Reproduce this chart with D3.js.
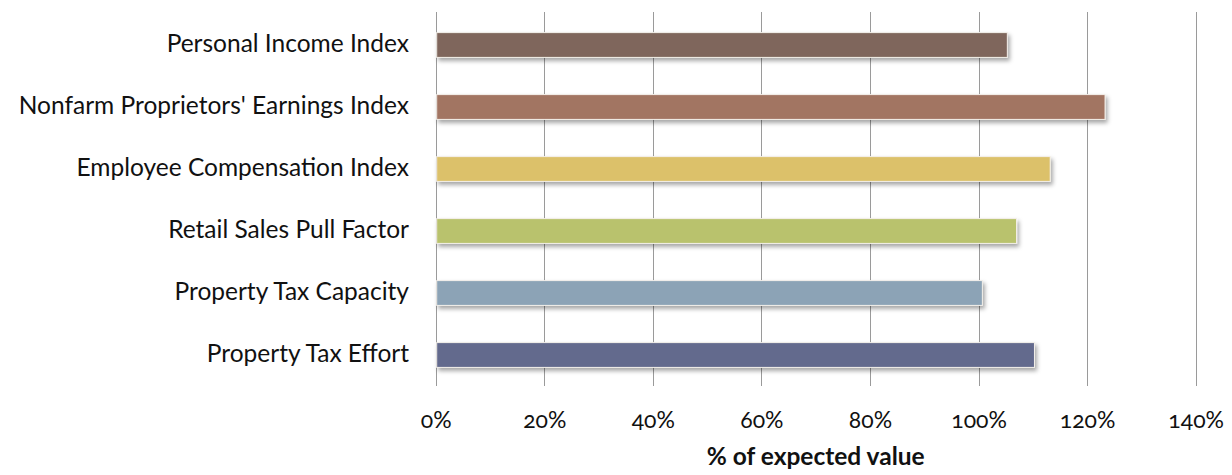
<!DOCTYPE html>
<html>
<head>
<meta charset="utf-8">
<script src="https://cdn.jsdelivr.net/npm/d3@7"></script>
<style>
  html, body { margin: 0; padding: 0; background: #fff; }
  svg { display: block; }
  .cat { font-family: Lato, "Open Sans", sans-serif; font-size: 24.5px; fill: #111; }
  .tick-label { font-family: Lato, "Open Sans", sans-serif; font-size: 23px; fill: #111;
                font-variant-numeric: oldstyle-nums; font-feature-settings: "onum" 1; }
  .axis-title { font-family: Lato, "Open Sans", sans-serif; font-size: 24.5px; font-weight: bold; fill: #111; }
</style>
</head>
<body>
<svg id="chart" width="1232" height="475"></svg>
<script>
// Index categories, listed top to bottom
const categories = [
  "Personal Income Index",
  "Nonfarm Proprietors' Earnings Index",
  "Employee Compensation Index",
  "Retail Sales Pull Factor",
  "Property Tax Capacity",
  "Property Tax Effort"
];
// Percent of expected value for each index
const values = [105.3, 123.3, 113.2, 107.0, 100.7, 110.3];
const barColors = ["#7f665c", "#a27462", "#dcc16b", "#b9c26d", "#8ca3b6", "#636a8d"];
const tickValues = [0, 20, 40, 60, 80, 100, 120, 140];
const axisTitle = "% of expected value";

const svg = d3.select("#chart");
const plot = { left: 435.7, right: 1195.7, top: 14, bottom: 386 };

const x = d3.scaleLinear().domain([0, 140]).range([plot.left, plot.right]);
const y = d3.scaleBand().domain(categories).range([plot.top, plot.bottom]).paddingInner(0.6).paddingOuter(0.3);

// Soft drop shadow under each bar
const defs = svg.append("defs");
const f = defs.append("filter").attr("id", "shadow").attr("x", "-5%").attr("y", "-40%").attr("width", "115%").attr("height", "200%");
f.append("feDropShadow").attr("dx", 2).attr("dy", 3).attr("stdDeviation", 2.2)
  .attr("flood-color", "#000").attr("flood-opacity", 0.35);

// Vertical gridlines (0% line doubles as the axis line)
svg.append("g").selectAll("line").data(tickValues).join("line")
  .attr("x1", d => Math.round(x(d)) + 0.5).attr("x2", d => Math.round(x(d)) + 0.5)
  .attr("y1", 12).attr("y2", 386)
  .attr("stroke", "#9a9a9a").attr("stroke-width", 1);

// Bars
svg.append("g").selectAll("rect").data(categories).join("rect")
  .attr("x", x(0) + 1)
  .attr("y", d => y(d))
  .attr("width", (d, i) => x(values[i]) - x(0) - 1)
  .attr("height", y.bandwidth())
  .attr("fill", (d, i) => barColors[i])
  .attr("stroke", "#f4f0ea").attr("stroke-width", 1)
  .attr("filter", "url(#shadow)");

// Category labels
svg.append("g").selectAll("text").data(categories).join("text")
  .attr("class", "cat")
  .attr("x", 409)
  .attr("y", d => y(d) + y.bandwidth() / 2)
  .attr("dy", "0.3em")
  .attr("text-anchor", "end")
  .text(d => d);

// Bottom axis tick labels
const xAxis = d3.axisBottom(x).tickValues(tickValues).tickFormat(d => d + "%").tickSize(0).tickPadding(0);
const ax = svg.append("g").attr("transform", "translate(0,428)").call(xAxis);
ax.select(".domain").remove();
ax.selectAll("text").attr("class", "tick-label").attr("fill", null).attr("font-size", null)
  .attr("font-family", null).attr("dy", null).attr("y", 0);
ax.attr("font-size", null).attr("font-family", null);

// Axis title
svg.append("text").attr("class", "axis-title")
  .attr("x", (plot.left + plot.right) / 2).attr("y", 465)
  .attr("text-anchor", "middle")
  .text(axisTitle);
</script>
</body>
</html>
